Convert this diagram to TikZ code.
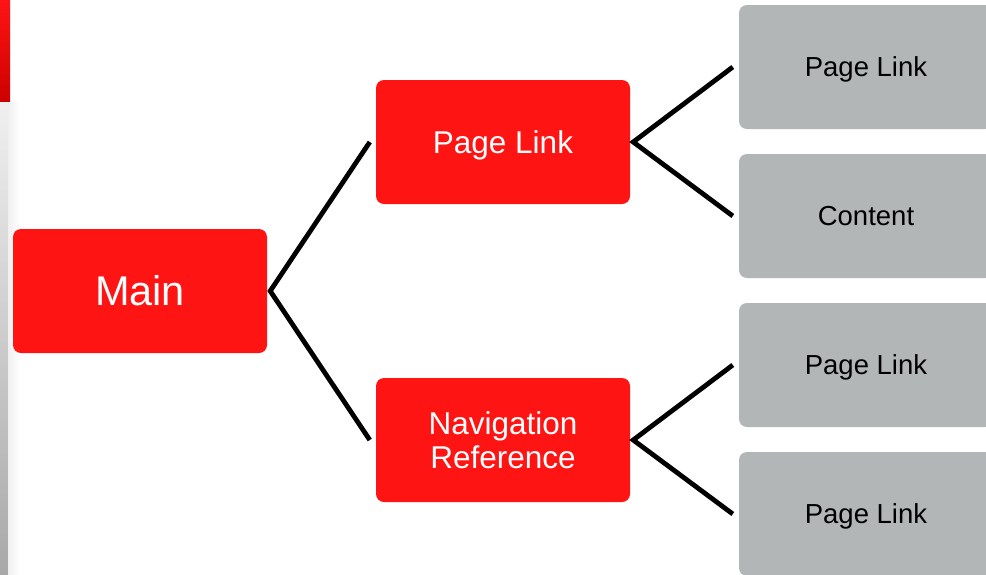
\documentclass[tikz,border=0pt]{standalone}
\usepackage{fontspec}
\setmainfont{Liberation Sans}
\newlength{\du}
\setlength{\du}{1\unitlength}
\definecolor{boxred}{rgb}{1.000000, 0.078431, 0.078431}
\definecolor{boxgrey}{rgb}{0.701961, 0.713725, 0.717647}
\definecolor{barred}{rgb}{0.800000, 0.000000, 0.000000}
\tikzset{
  redbox/.style={rectangle, rounded corners=8\du, fill=boxred, text=white,
    minimum width=254\du, minimum height=124\du, align=center, inner sep=0pt,
    font=\fontsize{31.5\du}{34\du}\selectfont},
  greybox/.style={rectangle, rounded corners=8\du, fill=boxgrey, text=black,
    minimum width=254\du, minimum height=124\du, align=center, inner sep=0pt,
    font=\fontsize{27.5\du}{32\du}\selectfont, text height=19.8\du, text depth=0pt},
  oneline/.style={text height=#1, text depth=0pt},
  branch/.style={line width=4.8\du, draw=black, line cap=butt}
}
\begin{document}
\begin{tikzpicture}
\pgftransformxscale{1.000000}
\pgftransformyscale{-1.000000}
\useasboundingbox (0\du,0\du) rectangle (986\du,574\du);
\fill[white] (0\du,0\du) rectangle (986\du,574\du);
% side bars
\shade[top color=boxred, bottom color=barred] (0\du,0\du) rectangle (10\du,102\du);
\shade[top color=black!6, bottom color=black!34] (0\du,102\du) rectangle (8\du,574\du);
\shade[left color=black!6, right color=white] (8\du,102\du) rectangle (20\du,574\du);
% boxes
\node[redbox, oneline=29.9\du, font=\fontsize{41.5\du}{46\du}\selectfont] (main) at (140\du,291\du){Main};
\node[redbox, oneline=22.7\du] (link) at (503\du,142\du){Page Link};
\node[redbox] (navref) at (503\du,440\du){Navigation\\Reference};
\node[greybox] (linka) at (866\du,67\du){Page Link};
\node[greybox] (content) at (866\du,216\du){Content};
\node[greybox] (linkb) at (866\du,365\du){Page Link};
\node[greybox] (linkc) at (866\du,514\du){Page Link};
% connectors
\draw[branch] ([xshift=-6\du]link.west)--([xshift=3\du]main.east)--([xshift=-6\du]navref.west);
\draw[branch] ([xshift=-6\du]linka.west)--([xshift=3\du]link.east)--([xshift=-6\du]content.west);
\draw[branch] ([xshift=-6\du]linkb.west)--([xshift=3\du]navref.east)--([xshift=-6\du]linkc.west);
\end{tikzpicture}
\end{document}
